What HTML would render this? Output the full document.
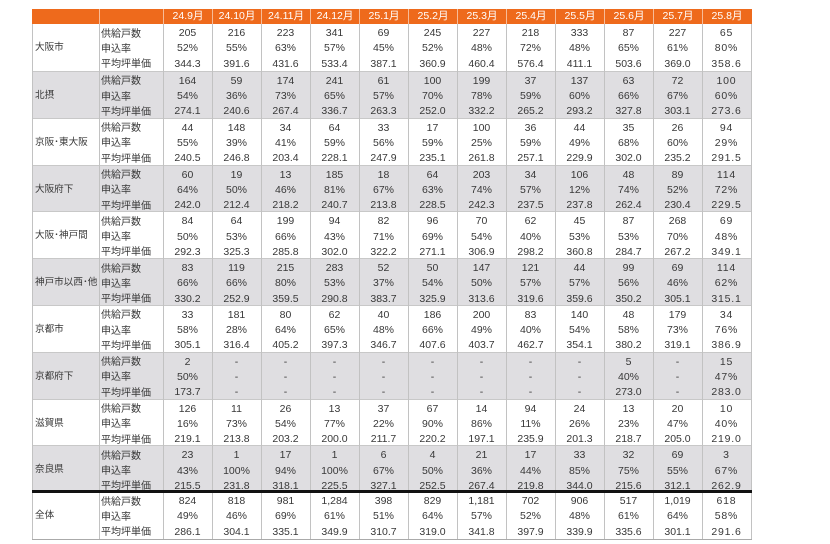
<!DOCTYPE html>
<html><head><meta charset="utf-8">
<style>
html,body{margin:0;padding:0;background:#fff;}
body{width:830px;height:544px;position:relative;overflow:hidden;font-family:"Liberation Sans","Noto Sans CJK JP",sans-serif;color:#383838;}
.hd{position:absolute;left:32px;top:9px;width:720px;height:15px;background:#ee6a1c;display:grid;grid-template-columns:67px 64px repeat(12,49px);}
.hd div{border-left:1px solid rgba(255,255,255,0.55);color:#fff;font-size:10.5px;line-height:15px;text-align:center;box-sizing:border-box;}
.hd div:first-child{border-left:none;}
.g{position:absolute;left:32px;width:720px;height:47px;display:grid;grid-template-columns:67px 64px repeat(12,49px);border-top:1px solid #c8c8c8;box-sizing:border-box;}
.gr{background:#dfdee1;}
.g div{font-size:10.5px;line-height:15.3px;padding-top:2px;text-align:center;white-space:nowrap;}
.g div.r{text-align:left;padding-left:3px;font-size:9.6px;line-height:46px;padding-top:1px;}
.g div.i{text-align:left;padding-left:2px;font-size:10px;padding-top:2.5px;}
.g div:last-child{letter-spacing:0.8px;}
.v{position:absolute;top:24px;height:515px;width:1px;background:#c2c2c2;}
.thick{position:absolute;left:32px;width:720px;top:490px;height:3px;background:#111;}
.bot{position:absolute;left:32px;width:720px;top:539px;height:1px;background:#aaa;}
</style></head><body>
<div class="hd"><div></div><div></div><div>24.9月</div><div>24.10月</div><div>24.11月</div><div>24.12月</div><div>25.1月</div><div>25.2月</div><div>25.3月</div><div>25.4月</div><div>25.5月</div><div>25.6月</div><div>25.7月</div><div>25.8月</div></div>

<div class="g" style="top:24px;border-top:none"><div class="r">大阪市</div><div class="i">供給戸数<br>申込率<br>平均坪単価</div>
<div>205<br>52%<br>344.3</div><div>216<br>55%<br>391.6</div><div>223<br>63%<br>431.6</div><div>341<br>57%<br>533.4</div><div>69<br>45%<br>387.1</div><div>245<br>52%<br>360.9</div><div>227<br>48%<br>460.4</div><div>218<br>72%<br>576.4</div><div>333<br>48%<br>411.1</div><div>87<br>65%<br>503.6</div><div>227<br>61%<br>369.0</div><div>65<br>80%<br>358.6</div></div>

<div class="g gr" style="top:70.8px"><div class="r">北摂</div><div class="i">供給戸数<br>申込率<br>平均坪単価</div>
<div>164<br>54%<br>274.1</div><div>59<br>36%<br>240.6</div><div>174<br>73%<br>267.4</div><div>241<br>65%<br>336.7</div><div>61<br>57%<br>263.3</div><div>100<br>70%<br>252.0</div><div>199<br>78%<br>332.2</div><div>37<br>59%<br>265.2</div><div>137<br>60%<br>293.2</div><div>63<br>66%<br>327.8</div><div>72<br>67%<br>303.1</div><div>100<br>60%<br>273.6</div></div>

<div class="g" style="top:117.6px"><div class="r">京阪･東大阪</div><div class="i">供給戸数<br>申込率<br>平均坪単価</div>
<div>44<br>55%<br>240.5</div><div>148<br>39%<br>246.8</div><div>34<br>41%<br>203.4</div><div>64<br>59%<br>228.1</div><div>33<br>56%<br>247.9</div><div>17<br>59%<br>235.1</div><div>100<br>25%<br>261.8</div><div>36<br>59%<br>257.1</div><div>44<br>49%<br>229.9</div><div>35<br>68%<br>302.0</div><div>26<br>60%<br>235.2</div><div>94<br>29%<br>291.5</div></div>

<div class="g gr" style="top:164.5px"><div class="r">大阪府下</div><div class="i">供給戸数<br>申込率<br>平均坪単価</div>
<div>60<br>64%<br>242.0</div><div>19<br>50%<br>212.4</div><div>13<br>46%<br>218.2</div><div>185<br>81%<br>240.7</div><div>18<br>67%<br>213.8</div><div>64<br>63%<br>228.5</div><div>203<br>74%<br>242.3</div><div>34<br>57%<br>237.5</div><div>106<br>12%<br>237.8</div><div>48<br>74%<br>262.4</div><div>89<br>52%<br>230.4</div><div>114<br>72%<br>229.5</div></div>

<div class="g" style="top:211.3px"><div class="r">大阪･神戸間</div><div class="i">供給戸数<br>申込率<br>平均坪単価</div>
<div>84<br>50%<br>292.3</div><div>64<br>53%<br>325.3</div><div>199<br>66%<br>285.8</div><div>94<br>43%<br>302.0</div><div>82<br>71%<br>322.2</div><div>96<br>69%<br>271.1</div><div>70<br>54%<br>306.9</div><div>62<br>40%<br>298.2</div><div>45<br>53%<br>360.8</div><div>87<br>53%<br>284.7</div><div>268<br>70%<br>267.2</div><div>69<br>48%<br>349.1</div></div>

<div class="g gr" style="top:258.1px"><div class="r">神戸市以西･他</div><div class="i">供給戸数<br>申込率<br>平均坪単価</div>
<div>83<br>66%<br>330.2</div><div>119<br>66%<br>252.9</div><div>215<br>80%<br>359.5</div><div>283<br>53%<br>290.8</div><div>52<br>37%<br>383.7</div><div>50<br>54%<br>325.9</div><div>147<br>50%<br>313.6</div><div>121<br>57%<br>319.6</div><div>44<br>57%<br>359.6</div><div>99<br>56%<br>350.2</div><div>69<br>46%<br>305.1</div><div>114<br>62%<br>315.1</div></div>

<div class="g" style="top:304.9px"><div class="r">京都市</div><div class="i">供給戸数<br>申込率<br>平均坪単価</div>
<div>33<br>58%<br>305.1</div><div>181<br>28%<br>316.4</div><div>80<br>64%<br>405.2</div><div>62<br>65%<br>397.3</div><div>40<br>48%<br>346.7</div><div>186<br>66%<br>407.6</div><div>200<br>49%<br>403.7</div><div>83<br>40%<br>462.7</div><div>140<br>54%<br>354.1</div><div>48<br>58%<br>380.2</div><div>179<br>73%<br>319.1</div><div>34<br>76%<br>386.9</div></div>

<div class="g gr" style="top:351.7px"><div class="r">京都府下</div><div class="i">供給戸数<br>申込率<br>平均坪単価</div>
<div>2<br>50%<br>173.7</div><div>-<br>-<br>-</div><div>-<br>-<br>-</div><div>-<br>-<br>-</div><div>-<br>-<br>-</div><div>-<br>-<br>-</div><div>-<br>-<br>-</div><div>-<br>-<br>-</div><div>-<br>-<br>-</div><div>5<br>40%<br>273.0</div><div>-<br>-<br>-</div><div>15<br>47%<br>283.0</div></div>

<div class="g" style="top:398.6px"><div class="r">滋賀県</div><div class="i">供給戸数<br>申込率<br>平均坪単価</div>
<div>126<br>16%<br>219.1</div><div>11<br>73%<br>213.8</div><div>26<br>54%<br>203.2</div><div>13<br>77%<br>200.0</div><div>37<br>22%<br>211.7</div><div>67<br>90%<br>220.2</div><div>14<br>86%<br>197.1</div><div>94<br>11%<br>235.9</div><div>24<br>26%<br>201.3</div><div>13<br>23%<br>218.7</div><div>20<br>47%<br>205.0</div><div>10<br>40%<br>219.0</div></div>

<div class="g gr" style="top:445.4px"><div class="r">奈良県</div><div class="i">供給戸数<br>申込率<br>平均坪単価</div>
<div>23<br>43%<br>215.5</div><div>1<br>100%<br>231.8</div><div>17<br>94%<br>318.1</div><div>1<br>100%<br>225.5</div><div>6<br>67%<br>327.1</div><div>4<br>50%<br>252.5</div><div>21<br>36%<br>267.4</div><div>17<br>44%<br>219.8</div><div>33<br>85%<br>344.0</div><div>32<br>75%<br>215.6</div><div>69<br>55%<br>312.1</div><div>3<br>67%<br>262.9</div></div>

<div class="g" style="top:492.2px;border-top:none"><div class="r">全体</div><div class="i">供給戸数<br>申込率<br>平均坪単価</div>
<div>824<br>49%<br>286.1</div><div>818<br>46%<br>304.1</div><div>981<br>69%<br>335.1</div><div>1,284<br>61%<br>349.9</div><div>398<br>51%<br>310.7</div><div>829<br>64%<br>319.0</div><div>1,181<br>57%<br>341.8</div><div>702<br>52%<br>397.9</div><div>906<br>48%<br>339.9</div><div>517<br>61%<br>335.6</div><div>1,019<br>64%<br>301.1</div><div>618<br>58%<br>291.6</div></div>

<div class="v" style="left:32px"></div>
<div class="v" style="left:99px"></div>
<div class="v" style="left:163px"></div>
<div class="v" style="left:212px"></div>
<div class="v" style="left:261px"></div>
<div class="v" style="left:310px"></div>
<div class="v" style="left:359px"></div>
<div class="v" style="left:408px"></div>
<div class="v" style="left:457px"></div>
<div class="v" style="left:506px"></div>
<div class="v" style="left:555px"></div>
<div class="v" style="left:604px"></div>
<div class="v" style="left:653px"></div>
<div class="v" style="left:702px"></div>
<div class="v" style="left:751px"></div>
<div class="thick"></div>
<div class="bot"></div>
</body></html>
